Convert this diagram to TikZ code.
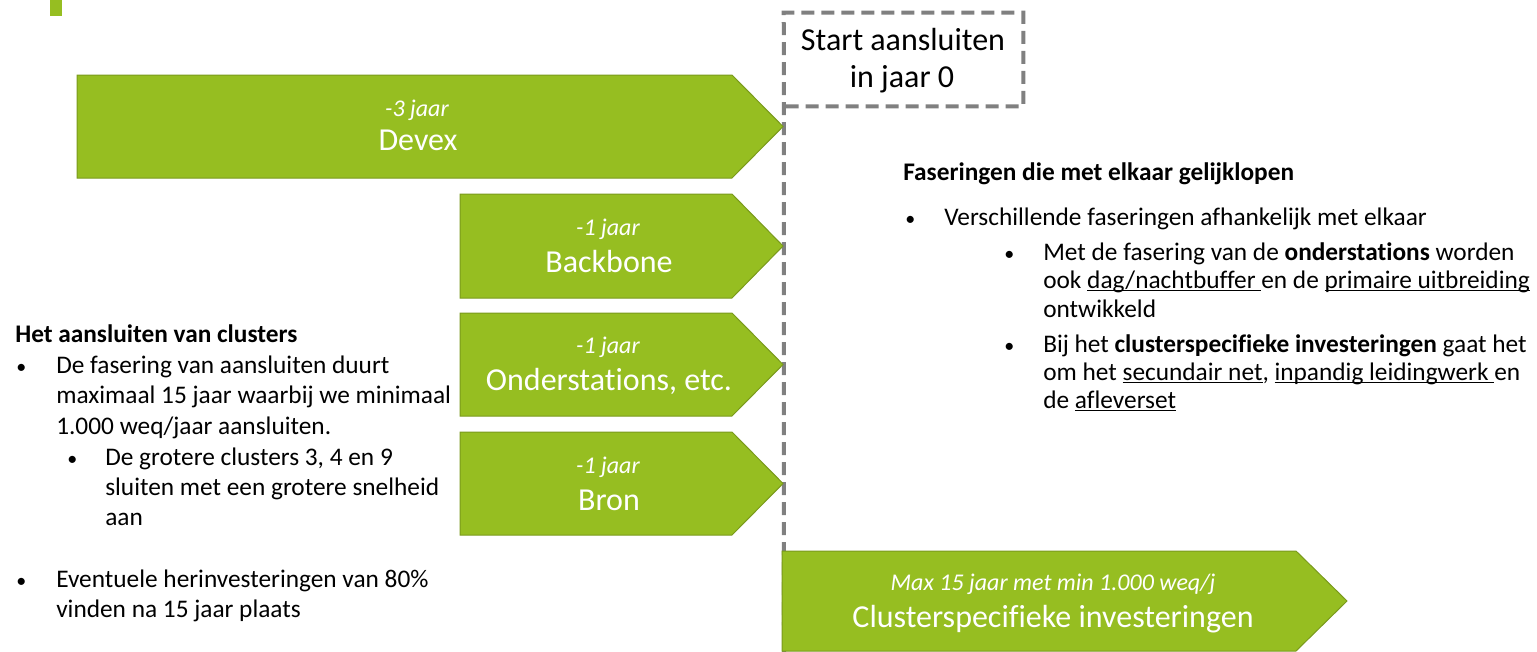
\documentclass[tikz,border=0pt]{standalone}
\usepackage{fontspec}
\setmainfont{Carlito}[Ligatures=NoCommon]
\definecolor{grn}{HTML}{96BE21}
\definecolor{grnd}{HTML}{7A9A1C}
\definecolor{dgray}{HTML}{808080}
\newcommand\myul[1]{\setbox0\hbox{#1}\rlap{\rule[-2.6pt]{\wd0}{0.9pt}}\box0}
\tikzset{
  arr/.style={fill=grn, draw=grnd, line width=0.75pt, line join=miter},
  dashline/.style={draw=dgray, line width=3pt, dash pattern=on 9.75pt off 5.25pt},
  itl/.style={anchor=base, inner sep=0, text=white, font=\fontsize{18}{20}\selectfont\itshape},
  bigl/.style={anchor=base, inner sep=0, text=white, font=\fontsize{24}{28}\selectfont},
  startl/.style={anchor=base, inner sep=0, font=\fontsize{24}{28}\selectfont},
  lbody/.style={anchor=base west, inner sep=0, font=\fontsize{19}{23}\selectfont},
  rbody/.style={anchor=base west, inner sep=0, font=\fontsize{19}{23}\selectfont},
  bul/.style={anchor=base west, inner sep=0, font=\fontsize{15}{18}\selectfont},
}
\begin{document}
\begin{tikzpicture}[x=0.75pt,y=-0.75pt]
\useasboundingbox (0,0) rectangle (1537,651);
% small corner mark
\fill[grn] (50,0) rectangle (62,16);
% start box and timeline
\node[minimum width=179.25pt, minimum height=69.75pt, inner sep=0] (start) at (903.5,59.5) {};
\coordinate (bot) at (784,655);
\draw[dashline] (bot) -- (start.north west) -- (start.north east) -- (start.south east) -- (start.south west);
\node[startl] (startA) at (903,50) {Start aansluiten};
\node[startl] (startB) at (902,87) {in jaar 0};
% arrows
\draw[arr] (77,75) -- (732,75) -- (783,126.5) -- (732,178) -- (77,178) -- cycle;
\node[itl] (devexT) at (417,116) {-3 jaar};
\node[bigl] (devex) at (418,150) {Devex};
\draw[arr] (460,194) -- (732,194) -- (783,246) -- (732,298) -- (460,298) -- cycle;
\node[itl] (backT) at (608,235) {-1 jaar};
\node[bigl] (back) at (609,272) {Backbone};
\draw[arr] (460,313) -- (732,313) -- (783,364.5) -- (732,416) -- (460,416) -- cycle;
\node[itl] (ondT) at (608,353) {-1 jaar};
\node[bigl] (ond) at (609,390) {Onderstations, etc.};
\draw[arr] (460,432) -- (732,432) -- (783,483.5) -- (732,535) -- (460,535) -- cycle;
\node[itl] (bronT) at (608,473) {-1 jaar};
\node[bigl] (bron) at (609,510) {Bron};
\draw[arr] (782,551) -- (1296,551) -- (1347,601) -- (1296,651) -- (782,651) -- cycle;
\node[itl] (clT) at (1053,590) {Max 15 jaar met min 1.000 weq/j};
\node[bigl] (cl) at (1053,627) {Clusterspecifieke investeringen};
% left text
\node[lbody] (L0) at (15,342) {\bfseries Het aansluiten van clusters};
\node[bul] (Lb1) at (16,373) {•};
\node[lbody] (L1) at (56,373) {De fasering van aansluiten duurt};
\node[lbody] (L2) at (56,403) {maximaal 15 jaar waarbij we minimaal};
\node[lbody] (L3) at (56,434) {1.000 weq/jaar aansluiten.};
\node[bul] (Lb2) at (67,465) {•};
\node[lbody] (L4) at (105,465) {De grotere clusters 3, 4 en 9};
\node[lbody] (L5) at (105,495) {sluiten met een grotere snelheid};
\node[lbody] (L6) at (105,525) {aan};
\node[bul] (Lb3) at (16,587) {•};
\node[lbody] (L7) at (56,587) {Eventuele herinvesteringen van 80\%};
\node[lbody] (L8) at (56,617) {vinden na 15 jaar plaats};
% right text
\node[rbody] (R0) at (903,180) {\bfseries Faseringen die met elkaar gelijklopen};
\node[bul] (Rb1) at (905,225) {•};
\node[rbody] (R1) at (944,225) {Verschillende faseringen afhankelijk met elkaar};
\node[bul] (Rb2) at (1004,260) {•};
\node[rbody] (R2) at (1043,260) {Met de fasering van de \textbf{onderstations} worden};
\node[rbody] (R3) at (1043,288) {ook \myul{dag/nachtbuffer }en de \myul{primaire uitbreiding}};
\node[rbody] (R4) at (1043,317) {ontwikkeld};
\node[bul] (Rb3) at (1004,352) {•};
\node[rbody] (R5) at (1043,352) {Bij het \textbf{clusterspecifieke investeringen} gaat het};
\node[rbody] (R6) at (1043,380) {om het \myul{secundair net}, \myul{inpandig leidingwerk }en};
\node[rbody] (R7) at (1043,408) {de \myul{afleverset}};
\end{tikzpicture}
\end{document}
